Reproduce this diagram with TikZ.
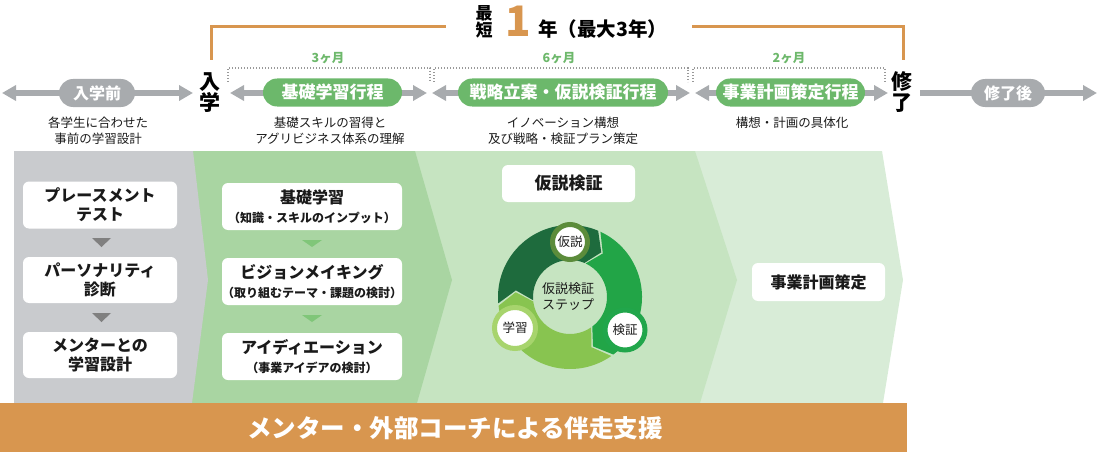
\documentclass[tikz,border=0pt]{standalone}
\usepackage{fontspec}
\setmainfont{Noto Sans CJK JP}
\usetikzlibrary{arrows.meta}
\definecolor{panelgray}{HTML}{C9CBCE}
\definecolor{panelA}{HTML}{A9D5A2}
\definecolor{panelB}{HTML}{C6E4C1}
\definecolor{panelC}{HTML}{D8ECD7}
\definecolor{pillgreen}{HTML}{6CB86B}
\definecolor{arrowgray}{HTML}{A8ABAE}
\definecolor{monthgreen}{HTML}{6DB86B}
\definecolor{orangeC}{HTML}{D8964F}
\definecolor{trigray}{HTML}{808080}
\definecolor{trigreen}{HTML}{80C679}
\definecolor{cydark}{HTML}{1E6B3D}
\definecolor{cybright}{HTML}{22A547}
\definecolor{cylight}{HTML}{88C450}
\definecolor{cbA}{HTML}{5C8C3B}
\definecolor{cbB}{HTML}{21A64B}
\definecolor{cbC}{HTML}{A7D46D}
\definecolor{txt}{HTML}{1A1A1A}
\newcommand\fsz[2]{\fontsize{#1pt}{#2pt}\selectfont}
\newcommand\cyarrow[3]{%
  \fill[#1] (#2:72) arc[start angle=#2, end angle={#3+12}, radius=72]
    -- (#3:54.5) -- ({#3+12}:37) arc[start angle={#3+12}, end angle=#2, radius=37]
    -- ({#2-12}:54.5) -- cycle;}
\tikzset{
  garrow/.style={draw=arrowgray, line width=5pt},
  pill/.style={fill=#1, rounded corners=14pt, minimum height=28pt, inner sep=0pt, text=white, font=\fsz{17}{17}\bfseries},
  month/.style={text=monthgreen, font=\fsz{12.5}{12.5}\bfseries, inner sep=0pt},
  desc/.style={text=txt, font=\fsz{12.5}{16}, align=center, inner sep=0pt},
  vlabel/.style={text=black, font=\fsz{21}{21}\bfseries, align=center, inner sep=0pt},
  dotbr/.style={draw=gray!80, line width=1.4pt, dash pattern=on 1.4pt off 1.6pt},
  obr/.style={draw=orangeC, line width=3pt},
  wbox/.style={fill=white, rounded corners=6pt, inner sep=0pt, align=center, text=txt, font=\fsz{16}{19}\bfseries},
  cyc/.style={circle, draw=#1, line width=5pt, fill=white, inner sep=0pt, text=txt, font=\fsz{12.5}{12.5}},
  >={Triangle[length=14pt,width=15pt]}
}
\begin{document}
\begin{tikzpicture}[x=1pt,y=-1pt]
\useasboundingbox (0,0) rectangle (1098,452);
% ---------- header ----------
\node[font=\fsz{17}{17}\bfseries, align=center, inner sep=0pt] (saitan) at (484,22) {最\\短};
\node[font=\fsz{42}{42}\bfseries, text=orangeC, inner sep=0pt] (one) at (518,21) {1};
\node[font=\fsz{19.5}{19.5}\bfseries, anchor=west, inner sep=0pt] (nen) at (538,29) {年（最大3年）};
\draw[obr] (211,60) |- (446,27);
\draw[obr] (692,27) -| (903,60);
\node[month] (m1) at (328,58) {3ヶ月};
\node[month] (m2) at (559,58) {6ヶ月};
\node[month] (m3) at (789,58) {2ヶ月};
\draw[dotbr] (228,82) |- (430,68) -- (430,82);
\draw[dotbr] (434,82) |- (688,68) -- (688,82);
\draw[dotbr] (693,82) |- (885,68) -- (885,82);
% ---------- timeline ----------
\coordinate (a1l) at (2,93);   \coordinate (a1r) at (193,93);
\coordinate (a2l) at (230,93); \coordinate (a2r) at (427,93);
\coordinate (a3l) at (432,93); \coordinate (a3r) at (690,93);
\coordinate (a4l) at (695,93); \coordinate (a4r) at (888,93);
\coordinate (a5l) at (920,93); \coordinate (a5r) at (1097,93);
\draw[garrow,<->] (a1l) -- (a1r);
\draw[garrow,<->] (a2l) -- (a2r);
\draw[garrow,<->] (a3l) -- (a3r);
\draw[garrow,<->] (a4l) -- (a4r);
\draw[garrow,->] (a5l) -- (a5r);
\node[pill=arrowgray, minimum width=76pt, font=\fsz{16}{16}\bfseries] (p1) at (97,93) {入学前};
\node[pill=pillgreen, minimum width=139pt] (p2) at (332.5,92.5) {基礎学習行程};
\node[pill=pillgreen, minimum width=210pt] (p3) at (563,92.5) {戦略立案・仮説検証行程};
\node[pill=pillgreen, minimum width=149pt] (p4) at (790.5,92.5) {事業計画策定行程};
\node[pill=arrowgray, minimum width=74pt, font=\fsz{16}{16}\bfseries] (p5) at (1008,93) {修了後};
\node[vlabel] (nyu) at (210,93) {入\\学};
\node[vlabel] (shu) at (902,92) {修\\了};
\node[desc] (d1) at (98,131) {各学生に合わせた\\事前の学習設計};
\node[desc] (d2) at (330,131) {基礎スキルの習得と\\アグリビジネス体系の理解};
\node[desc] (d3) at (563,131) {イノベーション構想\\及び戦略・検証プラン策定};
\node[desc] (d4) at (792,123) {構想・計画の具体化};
% ---------- panels ----------
\fill[panelC] (14,151) -- (882,151) -- (903,280) -- (883,403) -- (14,403) -- cycle;
\fill[panelB] (14,151) -- (695,151) -- (737,280) -- (700,403) -- (14,403) -- cycle;
\fill[panelA] (14,151) -- (415,151) -- (452,280) -- (417,403) -- (14,403) -- cycle;
\fill[panelgray] (14,151) -- (193,151) -- (208,280) -- (192,403) -- (14,403) -- cycle;
% left column
\node[wbox, minimum width=154pt, minimum height=47pt] (b1) at (100,205) {プレースメント\\テスト};
\node[wbox, minimum width=154pt, minimum height=46pt] (b2) at (100,280) {パーソナリティ\\診断};
\node[wbox, minimum width=154pt, minimum height=46pt] (b3) at (100,355) {メンターとの\\学習設計};
\fill[trigray] (92,238) -- (111,238) -- (101.5,247) -- cycle;
\fill[trigray] (92,313) -- (111,313) -- (101.5,322) -- cycle;
% green column
\node[wbox, minimum width=180pt, minimum height=47pt] (g1) at (312,206.5) {基礎学習\\{\fsz{12}{12}（知識・スキルのインプット）}};
\node[wbox, minimum width=180pt, minimum height=47pt] (g2) at (312,281.5) {ビジョンメイキング\\{\fsz{12}{12}（取り組むテーマ・課題の検討）}};
\node[wbox, minimum width=180pt, minimum height=47pt] (g3) at (312,356.5) {アイディエーション\\{\fsz{12}{12}（事業アイデアの検討）}};
\fill[trigreen] (302,240) -- (322,240) -- (312,247) -- cycle;
\fill[trigreen] (302,315) -- (322,315) -- (312,322) -- cycle;
% hypothesis testing
\node[wbox, minimum width=133pt, minimum height=37pt, font=\fsz{17}{17}\bfseries] (hv) at (568.5,183.5) {仮説検証};
\begin{scope}[shift={(570,297)}, y=1pt]
  \cyarrow{cydark}{185}{55}
  \cyarrow{cybright}{65}{-65}
  \cyarrow{cylight}{-55}{-185}
\end{scope}
\node[text=txt, font=\fsz{13}{16}, align=center, inner sep=0pt] (step) at (568,297) {仮説検証\\ステップ};
\node[cyc=cbA, minimum size=35pt] (kasetsu) at (570,242) {仮説};
\node[cyc=cbB, minimum size=40pt] (kensho) at (625,330) {検証};
\node[cyc=cbC, minimum size=41pt] (gakushu) at (515,328) {学習};
% business plan
\node[wbox, minimum width=133pt, minimum height=38pt, font=\fsz{16}{16}\bfseries] (bp) at (818.5,282) {事業計画策定};
% ---------- bottom bar ----------
\fill[orangeC] (0,403) rectangle (907,452);
\node[text=white, font=\fsz{24.5}{24.5}\bfseries, inner sep=0pt] (bar) at (455,428) {メンター・外部コーチによる伴走支援};
\end{tikzpicture}
\end{document}
